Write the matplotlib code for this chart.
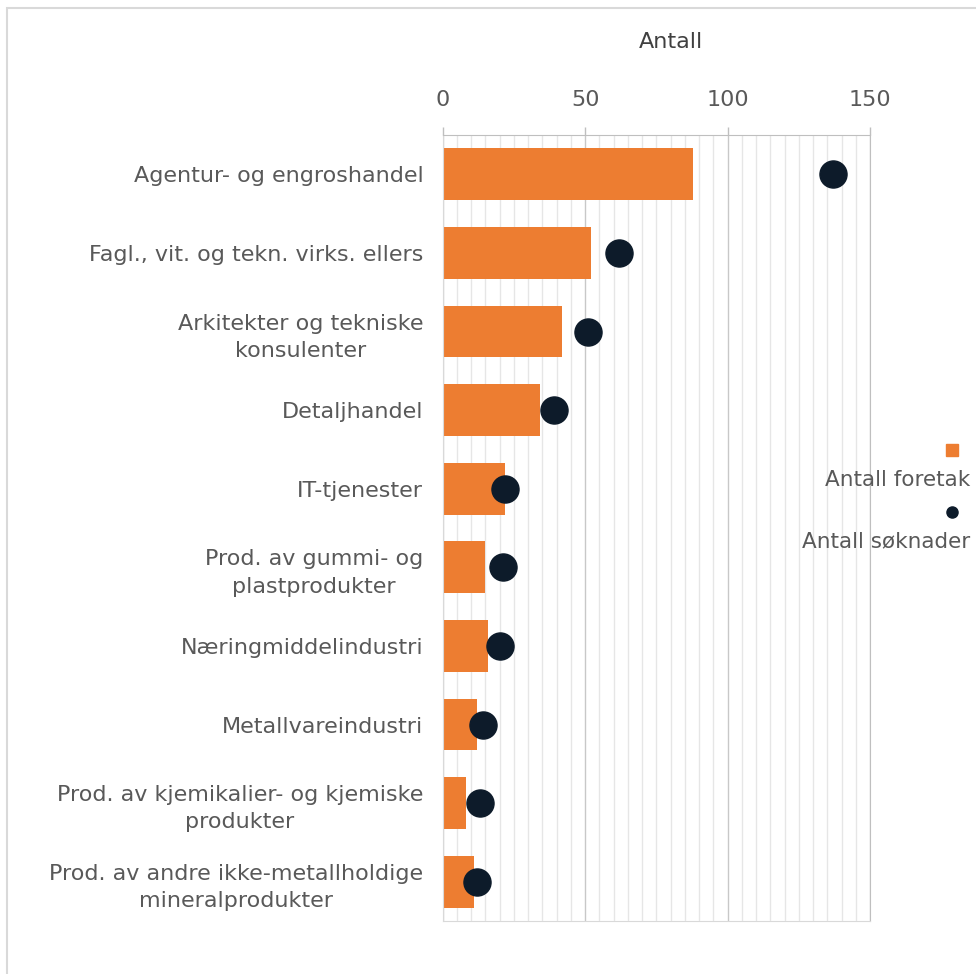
import matplotlib
matplotlib.use("Agg")
import matplotlib.pyplot as plt
from matplotlib.lines import Line2D
from matplotlib.patches import Rectangle
from matplotlib.ticker import MultipleLocator

categories = [
    "Agentur- og engroshandel",
    "Fagl., vit. og tekn. virks. ellers",
    "Arkitekter og tekniske\nkonsulenter",
    "Detaljhandel",
    "IT-tjenester",
    "Prod. av gummi- og\nplastprodukter",
    "Næringmiddelindustri",
    "Metallvareindustri",
    "Prod. av kjemikalier- og kjemiske\nprodukter",
    "Prod. av andre ikke-metallholdige\nmineralprodukter",
]
antall_foretak = [88, 52, 42, 34, 22, 15, 16, 12, 8, 11]
antall_soknader = [137, 62, 51, 39, 22, 21, 20, 14, 13, 12]
x_ticks = [0, 50, 100, 150]

ORANGE = "#ED7D31"
NAVY = "#0D1B2A"
TEXT = "#595959"

fig = plt.figure(figsize=(9.76, 9.74), dpi=100)
ax = fig.add_axes([0.4536, 0.0544, 0.4378, 0.807])

ypos = list(range(len(categories)))
ax.barh(ypos, antall_foretak, height=0.66, color=ORANGE, zorder=2)
ax.scatter(antall_soknader, ypos, s=380, color=NAVY, zorder=3)

ax.set_xlim(0, 150)
ax.set_ylim(len(categories) - 0.5, -0.5)
ax.set_yticks(ypos)
ax.set_yticklabels(categories, fontsize=16, color=TEXT)
for lab in ax.get_yticklabels():
    lab.set_multialignment("center")
    lab.set_linespacing(1.45)

ax.xaxis.tick_top()
ax.set_xticks(x_ticks)
ax.set_xticklabels([str(t) for t in x_ticks], fontsize=16, color=TEXT)
ax.xaxis.set_minor_locator(MultipleLocator(5))
ax.tick_params(axis="x", which="major", length=6, width=1, color="#bfbfbf", pad=12)
ax.tick_params(axis="x", which="minor", length=0)
ax.tick_params(axis="y", length=0, pad=14)

ax.grid(axis="x", which="major", color="#c8c8c8", linewidth=1, zorder=0)
ax.grid(axis="x", which="minor", color="#e6e6e6", linewidth=1, zorder=0)
ax.set_axisbelow(True)

for side in ["left", "bottom"]:
    ax.spines[side].set_color("#d9d9d9")
ax.spines["top"].set_color("#bfbfbf")
ax.spines["right"].set_color("#bfbfbf")

fig.text(0.687, 0.957, "Antall", ha="center", va="center", fontsize=16, color="#404040")

# legend stacked: marker above label
fig.add_artist(Line2D([0.975], [1 - 450 / 974], marker="s", markersize=9,
                      color=ORANGE, linestyle="none", transform=fig.transFigure))
fig.text(0.994, 1 - 480 / 974, "Antall foretak", ha="right", va="center", fontsize=15.5, color=TEXT)
fig.add_artist(Line2D([0.975], [1 - 512 / 974], marker="o", markersize=8,
                      color=NAVY, linestyle="none", transform=fig.transFigure))
fig.text(0.994, 1 - 541 / 974, "Antall søknader", ha="right", va="center", fontsize=15.5, color=TEXT)

# outer chart frame
fig.add_artist(Rectangle((7 / 976, -0.01), 1.02, 1 - 8 / 974 + 0.01, fill=False,
                         edgecolor="#d9d9d9", linewidth=1.5, transform=fig.transFigure))

fig.savefig("out.png", dpi=100)
